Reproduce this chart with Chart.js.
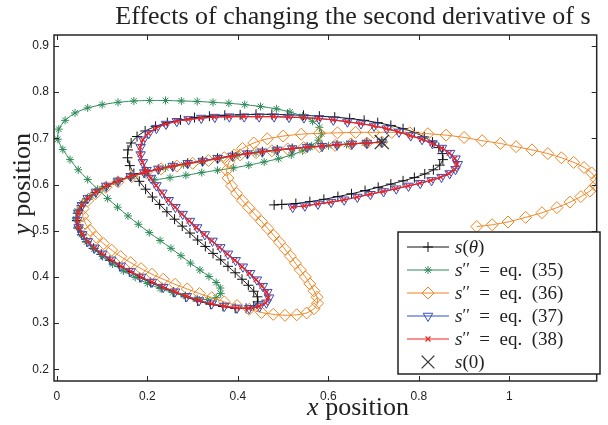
<!DOCTYPE html>
<html>
<head>
<meta charset="utf-8">
<script src="https://cdn.jsdelivr.net/npm/chart.js@4.4.1/dist/chart.umd.min.js"></script>
<style>
  html, body { margin: 0; padding: 0; background: #fff; }
</style>
</head>
<body>
<canvas id="pathChart" width="608" height="425"></canvas>
<script>
// tick values
const xTickVals = [0, 0.2, 0.4, 0.6, 0.8, 1];
const yTickVals = [0.2, 0.3, 0.4, 0.5, 0.6, 0.7, 0.8, 0.9];

const legendNames = ["s(θ)", "s'' = eq. (35)", "s'' = eq. (36)", "s'' = eq. (37)", "s'' = eq. (38)", "s(0)"];

// start point s(0)
const sZero = [[0.718, 0.692]];

// s(theta), black +
const sTheta = [
  [0.718,0.692],[0.685,0.690],[0.652,0.688],[0.619,0.686],[0.586,0.683],[0.553,0.681],[0.520,0.678],[0.487,0.675],
  [0.454,0.671],[0.421,0.667],[0.388,0.662],[0.355,0.657],[0.322,0.651],[0.289,0.646],[0.256,0.640],[0.224,0.633],
  [0.193,0.625],[0.163,0.617],[0.135,0.607],[0.109,0.596],[0.086,0.583],[0.067,0.569],[0.054,0.554],[0.046,0.538],
  [0.044,0.522],[0.047,0.506],[0.055,0.491],[0.066,0.476],[0.081,0.462],[0.098,0.449],[0.117,0.436],[0.138,0.423],
  [0.160,0.411],[0.183,0.399],[0.207,0.388],[0.232,0.377],[0.258,0.367],[0.284,0.357],[0.311,0.348],[0.339,0.341],
  [0.367,0.336],[0.394,0.332],[0.418,0.332],[0.435,0.337],[0.444,0.346],[0.443,0.357],[0.435,0.369],[0.423,0.382],
  [0.409,0.395],[0.394,0.409],[0.378,0.423],[0.362,0.437],[0.345,0.451],[0.328,0.466],[0.311,0.480],[0.294,0.495],
  [0.277,0.510],[0.260,0.525],[0.243,0.541],[0.227,0.557],[0.211,0.573],[0.196,0.590],[0.182,0.607],[0.170,0.624],
  [0.161,0.641],[0.156,0.658],[0.157,0.675],[0.164,0.690],[0.177,0.704],[0.195,0.716],[0.218,0.726],[0.244,0.734],
  [0.273,0.740],[0.304,0.745],[0.337,0.748],[0.371,0.750],[0.405,0.751],[0.440,0.752],[0.475,0.752],[0.510,0.751],
  [0.545,0.750],[0.580,0.748],[0.614,0.746],[0.647,0.743],[0.679,0.739],[0.709,0.734],[0.738,0.728],[0.765,0.721],
  [0.790,0.713],[0.812,0.703],[0.830,0.692],[0.844,0.680],[0.852,0.667],[0.853,0.654],[0.846,0.642],[0.832,0.632],
  [0.813,0.623],[0.790,0.615],[0.765,0.608],[0.738,0.601],[0.710,0.594],[0.681,0.587],[0.651,0.580],[0.621,0.574],
  [0.590,0.568],[0.559,0.563],[0.528,0.559],[0.497,0.557],[0.480,0.556]
];

// s'' = eq. (35), green *
const eq35 = [
  [0.718,0.692],[0.680,0.690],[0.640,0.687],[0.600,0.684],[0.560,0.681],[0.520,0.678],[0.480,0.674],[0.440,0.669],
  [0.400,0.664],[0.360,0.657],[0.320,0.650],[0.280,0.643],[0.240,0.636],[0.200,0.628],[0.165,0.618],[0.130,0.605],
  [0.100,0.591],[0.075,0.576],[0.056,0.560],[0.045,0.543],[0.042,0.526],[0.046,0.509],[0.054,0.492],[0.066,0.476],
  [0.082,0.460],[0.101,0.444],[0.123,0.428],[0.147,0.413],[0.173,0.399],[0.200,0.386],[0.228,0.375],[0.256,0.366],
  [0.284,0.358],[0.310,0.353],[0.333,0.351],[0.352,0.355],[0.362,0.364],[0.361,0.376],[0.352,0.388],[0.336,0.401],
  [0.316,0.415],[0.295,0.430],[0.274,0.446],[0.252,0.462],[0.228,0.479],[0.204,0.496],[0.180,0.514],[0.157,0.532],
  [0.134,0.551],[0.112,0.570],[0.090,0.590],[0.068,0.611],[0.047,0.632],[0.029,0.654],[0.013,0.676],[0.002,0.698],
  [0.004,0.720],[0.018,0.739],[0.040,0.755],[0.068,0.766],[0.100,0.773],[0.135,0.778],[0.170,0.781],[0.205,0.782],
  [0.240,0.782],[0.275,0.781],[0.310,0.780],[0.345,0.778],[0.380,0.776],[0.415,0.773],[0.450,0.769],[0.485,0.764],
  [0.515,0.757],[0.543,0.748],[0.565,0.737],[0.580,0.724],[0.585,0.710],[0.578,0.696],[0.563,0.684],[0.543,0.673],
  [0.518,0.664],[0.490,0.656],[0.458,0.649],[0.424,0.642],[0.390,0.636],[0.355,0.631],[0.320,0.626],[0.285,0.620],
  [0.250,0.615],[0.215,0.610]
];

// s'' = eq. (36), orange diamonds
const eq36 = [
  [0.718,0.692],[0.685,0.690],[0.650,0.688],[0.615,0.685],[0.580,0.682],[0.545,0.680],[0.510,0.677],[0.475,0.673],
  [0.440,0.669],[0.405,0.664],[0.370,0.658],[0.335,0.652],[0.300,0.646],[0.265,0.640],[0.230,0.634],[0.197,0.626],
  [0.165,0.617],[0.135,0.606],[0.108,0.594],[0.085,0.580],[0.068,0.565],[0.058,0.548],[0.057,0.532],[0.063,0.516],
  [0.073,0.501],[0.087,0.486],[0.103,0.472],[0.121,0.458],[0.141,0.444],[0.163,0.431],[0.186,0.418],[0.210,0.406],
  [0.235,0.395],[0.261,0.384],[0.288,0.374],[0.315,0.364],[0.342,0.355],[0.370,0.346],[0.398,0.338],[0.425,0.330],
  [0.452,0.323],[0.478,0.319],[0.504,0.317],[0.530,0.318],[0.552,0.322],[0.568,0.331],[0.576,0.343],[0.575,0.356],
  [0.568,0.370],[0.559,0.385],[0.549,0.400],[0.538,0.415],[0.527,0.430],[0.516,0.445],[0.504,0.460],[0.492,0.475],
  [0.479,0.490],[0.466,0.505],[0.452,0.520],[0.438,0.535],[0.424,0.550],[0.410,0.565],[0.397,0.581],[0.386,0.597],
  [0.378,0.614],[0.375,0.631],[0.380,0.648],[0.392,0.664],[0.410,0.678],[0.435,0.690],[0.465,0.699],[0.500,0.705],
  [0.540,0.709],[0.580,0.711],[0.620,0.712],[0.660,0.713],[0.700,0.713],[0.740,0.713],[0.780,0.712],[0.820,0.710],
  [0.860,0.707],[0.900,0.702],[0.940,0.695],[0.980,0.689],[1.015,0.682],[1.050,0.675],[1.085,0.667],[1.115,0.658],
  [1.142,0.648],[1.165,0.637],[1.182,0.625],[1.192,0.611],[1.190,0.598],[1.178,0.586],[1.158,0.574],[1.134,0.562],
  [1.105,0.550],[1.072,0.539],[1.036,0.529],[0.997,0.519],[0.962,0.513],[0.928,0.509]
];

// s'' = eq. (38), red x
const eq38 = [
  [0.718,0.692],[0.685,0.690],[0.652,0.688],[0.619,0.686],[0.586,0.683],[0.553,0.681],[0.520,0.678],[0.487,0.675],
  [0.454,0.671],[0.421,0.667],[0.388,0.662],[0.355,0.657],[0.322,0.651],[0.289,0.646],[0.256,0.640],[0.224,0.634],
  [0.193,0.626],[0.163,0.618],[0.135,0.608],[0.109,0.597],[0.086,0.584],[0.068,0.570],[0.055,0.555],[0.047,0.539],
  [0.045,0.523],[0.048,0.507],[0.056,0.492],[0.068,0.477],[0.083,0.463],[0.100,0.450],[0.120,0.437],[0.141,0.424],
  [0.163,0.412],[0.186,0.400],[0.210,0.389],[0.235,0.378],[0.261,0.368],[0.287,0.358],[0.314,0.349],[0.342,0.342],
  [0.370,0.337],[0.398,0.333],[0.424,0.332],[0.446,0.336],[0.461,0.344],[0.467,0.355],[0.463,0.367],[0.453,0.380],
  [0.440,0.394],[0.425,0.408],[0.409,0.422],[0.393,0.436],[0.376,0.450],[0.359,0.464],[0.342,0.478],[0.325,0.492],
  [0.308,0.507],[0.292,0.521],[0.276,0.536],[0.261,0.551],[0.246,0.566],[0.232,0.582],[0.219,0.598],[0.207,0.614],
  [0.197,0.631],[0.189,0.648],[0.184,0.665],[0.184,0.681],[0.190,0.697],[0.202,0.711],[0.219,0.722],[0.240,0.731],
  [0.264,0.737],[0.290,0.741],[0.318,0.744],[0.348,0.746],[0.380,0.747],[0.413,0.747],[0.446,0.747],[0.479,0.747],
  [0.512,0.746],[0.545,0.745],[0.578,0.743],[0.610,0.740],[0.641,0.736],[0.671,0.732],[0.700,0.727],[0.728,0.721],
  [0.755,0.714],[0.781,0.706],[0.806,0.698],[0.829,0.689],[0.850,0.679],[0.867,0.668],[0.879,0.656],[0.884,0.644],
  [0.879,0.633],[0.866,0.624],[0.848,0.616],[0.826,0.609],[0.802,0.603],[0.776,0.597],[0.749,0.591],[0.721,0.585],
  [0.692,0.579],[0.663,0.573],[0.634,0.567],[0.605,0.562],[0.576,0.558],[0.547,0.554],[0.520,0.551]
];

// s'' = eq. (37), blue triangles (almost on top of eq. 38)
const eq37 = [
  [0.718,0.692],[0.685,0.690],[0.652,0.688],[0.619,0.686],[0.586,0.683],[0.553,0.681],[0.520,0.678],[0.487,0.675],
  [0.454,0.671],[0.421,0.667],[0.388,0.662],[0.355,0.657],[0.322,0.651],[0.289,0.646],[0.256,0.640],[0.224,0.634],
  [0.193,0.626],[0.163,0.618],[0.135,0.608],[0.109,0.597],[0.086,0.584],[0.068,0.570],[0.055,0.555],[0.047,0.539],
  [0.045,0.523],[0.048,0.507],[0.056,0.492],[0.068,0.477],[0.083,0.463],[0.100,0.450],[0.120,0.437],[0.141,0.424],
  [0.163,0.412],[0.186,0.400],[0.210,0.389],[0.235,0.378],[0.261,0.368],[0.287,0.358],[0.314,0.349],[0.342,0.342],
  [0.370,0.337],[0.398,0.333],[0.425,0.332],[0.448,0.336],[0.463,0.344],[0.469,0.355],[0.465,0.367],[0.455,0.380],
  [0.442,0.394],[0.427,0.408],[0.411,0.422],[0.395,0.436],[0.378,0.450],[0.361,0.464],[0.344,0.478],[0.327,0.492],
  [0.310,0.507],[0.294,0.521],[0.278,0.536],[0.262,0.551],[0.247,0.566],[0.233,0.582],[0.220,0.598],[0.208,0.614],
  [0.198,0.631],[0.190,0.648],[0.185,0.665],[0.185,0.681],[0.191,0.697],[0.203,0.711],[0.220,0.722],[0.241,0.731],
  [0.265,0.737],[0.291,0.741],[0.319,0.744],[0.349,0.746],[0.381,0.747],[0.414,0.747],[0.447,0.747],[0.480,0.747],
  [0.513,0.746],[0.546,0.745],[0.579,0.743],[0.611,0.740],[0.642,0.736],[0.672,0.732],[0.701,0.727],[0.729,0.721],
  [0.756,0.714],[0.782,0.706],[0.807,0.698],[0.830,0.689],[0.851,0.679],[0.869,0.668],[0.881,0.656],[0.886,0.644],
  [0.881,0.633],[0.868,0.624],[0.850,0.616],[0.828,0.609],[0.803,0.603],[0.777,0.597],[0.750,0.591],[0.722,0.585],
  [0.693,0.579],[0.664,0.573],[0.635,0.567],[0.606,0.562],[0.577,0.558],[0.548,0.554],[0.521,0.551]
];

const toPts = arr => arr.map(p => ({ x: p[0], y: p[1] }));

// marker + colour per series, in legend order
const seriesStyle = [
  { color: "#111111", point: "cross",    radius: 5,   rot: 0,   lw: 1 },
  { color: "#2E8B57", point: "star",     radius: 4,   rot: 0,   lw: 1 },
  { color: "#EE8422", point: "rectRot",  radius: 6,   rot: 0,   lw: 1 },
  { color: "#2F4FC0", point: "triangle", radius: 5.5, rot: 180, lw: 1 },
  { color: "#EE2222", point: "crossRot", radius: 3.5, rot: 0,   lw: 1.2 },
  { color: "#333333", point: "crossRot", radius: 10,  rot: 0,   lw: 1.3 }
];
const seriesData = [sTheta, eq35, eq36, eq37, eq38, sZero];

const datasets = seriesData.map((d, i) => {
  const st = seriesStyle[i];
  return {
    label: legendNames[i],
    data: toPts(d),
    showLine: i < 5,
    borderColor: st.color,
    borderWidth: st.lw,
    backgroundColor: "rgba(0,0,0,0)",
    pointStyle: st.point,
    pointRadius: st.radius,
    pointRotation: st.rot,
    pointBorderColor: st.color,
    pointBackgroundColor: "rgba(0,0,0,0)",
    pointBorderWidth: st.lw,
    tension: 0.2,
    order: 6 - i
  };
});

const SERIF = "'Liberation Serif', serif";

function richWidth(ctx, parts, size) {
  let w = 0;
  parts.forEach(p => {
    const fs = p.sup ? size * 0.9 : size;
    ctx.font = (p.it ? "italic " : "") + fs + "px " + SERIF;
    w += ctx.measureText(p.t).width;
  });
  return w;
}

function drawRich(ctx, x, y, parts, size) {
  parts.forEach(p => {
    const fs = p.sup ? size * 0.9 : size;
    ctx.font = (p.it ? "italic " : "") + fs + "px " + SERIF;
    ctx.fillText(p.t, x, y - (p.sup ? size * 0.12 : 0));
    x += ctx.measureText(p.t).width;
  });
}

const frame = {
  id: "frame",
  afterDraw(chart) {
    const ctx = chart.ctx;
    const a = chart.chartArea;
    const xs = chart.scales.x, ys = chart.scales.y;
    ctx.save();

    // axes box with inward ticks
    ctx.strokeStyle = "#262626";
    ctx.lineWidth = 1.5;
    ctx.strokeRect(a.left, a.top, a.right - a.left, a.bottom - a.top);
    ctx.lineWidth = 1;
    ctx.beginPath();
    xTickVals.forEach(v => {
      const px = Math.round(xs.getPixelForValue(v)) + 0.5;
      ctx.moveTo(px, a.bottom); ctx.lineTo(px, a.bottom - 5);
      ctx.moveTo(px, a.top); ctx.lineTo(px, a.top + 5);
    });
    yTickVals.forEach(v => {
      const py = Math.round(ys.getPixelForValue(v)) + 0.5;
      ctx.moveTo(a.left, py); ctx.lineTo(a.left + 5, py);
      ctx.moveTo(a.right, py); ctx.lineTo(a.right - 5, py);
    });
    ctx.stroke();

    // title
    ctx.fillStyle = "#222";
    ctx.textBaseline = "alphabetic";
    ctx.textAlign = "center";
    ctx.font = "26px " + SERIF;
    ctx.fillText("Effects of changing the second derivative of s", 353, 24);

    // axis labels
    ctx.textAlign = "left";
    const xl = [{ t: "x", it: true }, { t: " position" }];
    const yl = [{ t: "y", it: true }, { t: " position" }];
    drawRich(ctx, 358 - richWidth(ctx, xl, 26) / 2, 415, xl, 26);
    ctx.save();
    ctx.translate(30, 184);
    ctx.rotate(-Math.PI / 2);
    drawRich(ctx, -richWidth(ctx, yl, 26) / 2, 0, yl, 26);
    ctx.restore();

    // legend
    const lb = { l: 398, t: 232, r: 600, b: 374 };
    ctx.fillStyle = "#fff";
    ctx.fillRect(lb.l, lb.t, lb.r - lb.l, lb.b - lb.t);
    ctx.strokeStyle = "#222";
    ctx.lineWidth = 1.5;
    ctx.strokeRect(lb.l, lb.t, lb.r - lb.l, lb.b - lb.t);
    const rows = [247, 270, 293, 316, 339, 362];
    const eqParts = n => [{ t: "s", it: true }, { t: "\u2032\u2032", sup: true }, { t: "\u2002=\u2002eq.\u2002(" + n + ")" }];
    const texts = [
      [{ t: "s", it: true }, { t: "(" }, { t: "θ", it: true }, { t: ")" }],
      eqParts(35), eqParts(36), eqParts(37), eqParts(38),
      [{ t: "s", it: true }, { t: "(0)" }]
    ];
    rows.forEach((ry, i) => {
      const st = seriesStyle[i];
      ctx.strokeStyle = st.color;
      ctx.lineWidth = 1;
      if (i < 5) {
        ctx.beginPath();
        ctx.moveTo(407, ry); ctx.lineTo(449, ry);
        ctx.stroke();
      }
      ctx.lineWidth = st.lw;
      ctx.fillStyle = "rgba(0,0,0,0)";
      Chart.helpers.drawPoint(ctx, {
        pointStyle: st.point,
        radius: i === 5 ? 9 : st.radius,
        rotation: st.rot,
        borderWidth: st.lw
      }, 428, ry);
      ctx.fillStyle = "#222";
      drawRich(ctx, 455, ry + 6, texts[i], 19);
    });
    ctx.restore();
  }
};

const ctx = document.getElementById("pathChart").getContext("2d");
new Chart(ctx, {
  type: "scatter",
  data: { datasets: datasets },
  options: {
    responsive: false,
    animation: false,
    layout: { padding: { left: 0, right: 1, top: 35, bottom: 0 } },
    plugins: { legend: { display: false }, tooltip: { enabled: false } },
    scales: {
      x: {
        type: "linear",
        min: -0.0065,
        max: 1.193,
        afterFit: s => { s.height = 44; },
        afterBuildTicks: s => { s.ticks = xTickVals.map(v => ({ value: v })); },
        grid: { display: false, drawTicks: false },
        border: { display: false },
        ticks: {
          padding: 8,
          color: "#222",
          font: { family: "'Liberation Sans', Arial", size: 12 },
          callback: v => (v === 0 || v === 1) ? String(v) : v.toFixed(1)
        }
      },
      y: {
        type: "linear",
        min: 0.1747,
        max: 0.9238,
        afterFit: s => { s.width = 54; },
        afterBuildTicks: s => { s.ticks = yTickVals.map(v => ({ value: v })); },
        grid: { display: false, drawTicks: false },
        border: { display: false },
        ticks: {
          padding: 5,
          color: "#222",
          font: { family: "'Liberation Sans', Arial", size: 12 },
          callback: v => v.toFixed(1)
        }
      }
    }
  },
  plugins: [frame]
});
</script>
</body>
</html>
